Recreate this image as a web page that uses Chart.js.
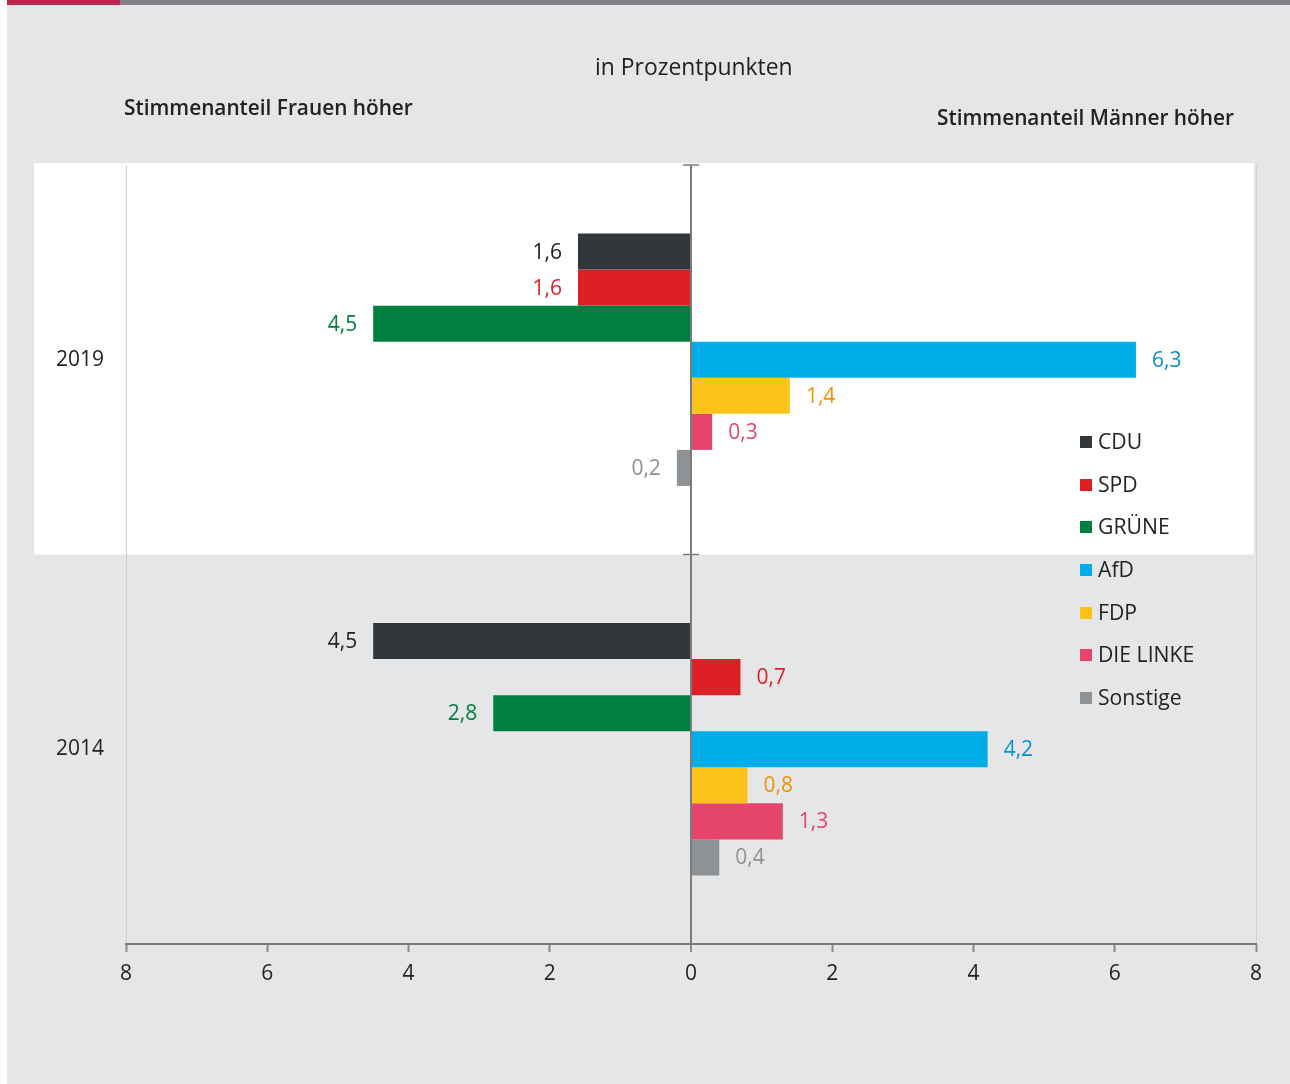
<!DOCTYPE html>
<html><head><meta charset="utf-8">
<script src="https://cdn.jsdelivr.net/npm/chart.js@4/dist/chart.umd.min.js"></script>
<style>
html,body{margin:0;padding:0;background:#fff;}
#wrap{position:relative;width:1290px;height:1084px;overflow:hidden;font-family:"Open Sans",sans-serif;color:#222;}
#panel{position:absolute;left:7px;top:5px;width:1283px;height:1079px;background:#e5e6e8;}
#barR{position:absolute;left:7px;top:0;width:113px;height:5px;background:#be234b;}
#barG{position:absolute;left:120px;top:0;width:1170px;height:5px;background:#808184;}
canvas{position:absolute;left:0;top:0;}
.t{position:absolute;white-space:nowrap;}
#legend{position:absolute;left:1080px;top:428px;}
.li{height:42.7px;display:flex;align-items:flex-start;font-size:21.2px;line-height:26px;}
.sw{width:12px;height:12px;margin-top:8px;margin-right:6px;}
</style></head>
<body>
<div id="wrap">
  <div id="panel"></div><div id="barR"></div><div id="barG"></div>
  <canvas id="c" width="1290" height="1084"></canvas>
  <div class="t" style="left:595px;top:51px;font-size:22.9px;">in Prozentpunkten</div>
  <div class="t" style="left:124px;top:93px;font-size:20.8px;font-weight:600;">Stimmenanteil Frauen höher</div>
  <div class="t" style="left:937px;top:103px;font-size:20.8px;font-weight:600;">Stimmenanteil Männer höher</div>
  <div id="legend"></div>
</div>
<script>
const categories = ['2019', '2014'];
const parties = ['CDU', 'SPD', 'GRÜNE', 'AfD', 'FDP', 'DIE LINKE', 'Sonstige'];
// negative = Stimmenanteil Frauen höher, positive = Stimmenanteil Männer höher
const cdu      = [-1.6, -4.5];
const spd      = [-1.6,  0.7];
const gruene   = [-4.5, -2.8];
const afd      = [ 6.3,  4.2];
const fdp      = [ 1.4,  0.8];
const linke    = [ 0.3,  1.3];
const sonstige = [-0.2,  0.4];
const xTicks = [-8, -6, -4, -2, 0, 2, 4, 6, 8];

const seriesValues = [cdu, spd, gruene, afd, fdp, linke, sonstige];
const barColors = ['#32373b', '#dd1f26', '#008040', '#00ade8', '#fec31a', '#e5446b', '#8f9294'];
const labelColors = ['#222222', '#dd1f26', '#008040', '#0a8fd0', '#f39200', '#e5446b', '#8f9294'];

const legendEl = document.getElementById('legend');
parties.forEach((p, i) => {
  const d = document.createElement('div'); d.className = 'li';
  d.innerHTML = '<div class="sw" style="background:' + barColors[i] + '"></div><span>' + p + '</span>';
  legendEl.appendChild(d);
});

const fmt = v => Math.abs(v).toFixed(1).replace('.', ',');

const bgPlugin = {
  id: 'bg',
  beforeDraw(chart) {
    const {ctx, chartArea, scales} = chart;
    const y = scales.y;
    const yTop = chartArea.top - 2;
    const yMid = (y.getPixelForValue(0) + y.getPixelForValue(1)) / 2;
    ctx.save();
    ctx.fillStyle = '#ffffff';
    ctx.fillRect(34, yTop, chartArea.right - 2 - 34, yMid - yTop);
    ctx.restore();
  },
  afterDraw(chart) {
    const {ctx, chartArea, scales} = chart;
    const y = scales.y, x = scales.x;
    const x0 = x.getPixelForValue(0);
    const yMid = (y.getPixelForValue(0) + y.getPixelForValue(1)) / 2;
    ctx.save();
    ctx.strokeStyle = '#7a7b7d';
    ctx.lineWidth = 1.5;
    [chartArea.top, yMid].forEach(py => {
      ctx.beginPath(); ctx.moveTo(x0 - 8, py); ctx.lineTo(x0 + 8, py); ctx.stroke();
    });
    ctx.restore();
  }
};

const labelPlugin = {
  id: 'vals',
  afterDatasetsDraw(chart) {
    const ctx = chart.ctx;
    ctx.save();
    ctx.font = '21px "Open Sans", sans-serif';
    ctx.textBaseline = 'middle';
    chart.data.datasets.forEach((ds, di) => {
      const meta = chart.getDatasetMeta(di);
      meta.data.forEach((bar, i) => {
        const v = ds.data[i];
        ctx.fillStyle = labelColors[di];
        if (v >= 0) { ctx.textAlign = 'left'; ctx.fillText(fmt(v), bar.x + 16, bar.y + 1); }
        else { ctx.textAlign = 'right'; ctx.fillText(fmt(v), bar.x - 16, bar.y + 1); }
      });
    });
    ctx.restore();
  }
};

new Chart(document.getElementById('c'), {
  type: 'bar',
  data: {
    labels: categories,
    datasets: parties.map((p, i) => ({
      label: p,
      data: seriesValues[i],
      backgroundColor: barColors[i],
      borderWidth: 0,
      categoryPercentage: 0.648,
      barPercentage: 1.0
    }))
  },
  options: {
    indexAxis: 'y',
    responsive: false,
    animation: false,
    devicePixelRatio: 1,
    layout: { padding: { top: 165, right: 34, left: 0, bottom: 0 } },
    plugins: { legend: { display: false }, tooltip: { enabled: false } },
    scales: {
      x: {
        min: -8, max: 8,
        afterBuildTicks: s => { s.ticks = xTicks.map(v => ({ value: v })); },
        afterFit: s => { s.height = 1084 - 944; },
        ticks: {
          callback: v => String(Math.abs(v)),
          color: '#222', font: { family: 'Open Sans', size: 21 }, padding: 9,
          maxRotation: 0
        },
        grid: {
          drawOnChartArea: true,
          color: c => c.tick && c.tick.value === 0 ? '#7a7b7d' : (c.tick && Math.abs(c.tick.value) === 8 ? '#cfd0d2' : 'rgba(0,0,0,0)'),
          lineWidth: c => c.tick && c.tick.value === 0 ? 2 : 1,
          tickColor: '#8a8b8d', tickLength: 8, tickWidth: 2
        },
        border: { display: true, color: '#7a7b7d', width: 2 }
      },
      y: {
        afterFit: s => { s.width = 126; },
        ticks: { color: '#222', font: { family: 'Open Sans', size: 21 }, padding: 14 },
        grid: { display: false },
        border: { display: false }
      }
    }
  },
  plugins: [bgPlugin, labelPlugin]
});
</script>
</body></html>
